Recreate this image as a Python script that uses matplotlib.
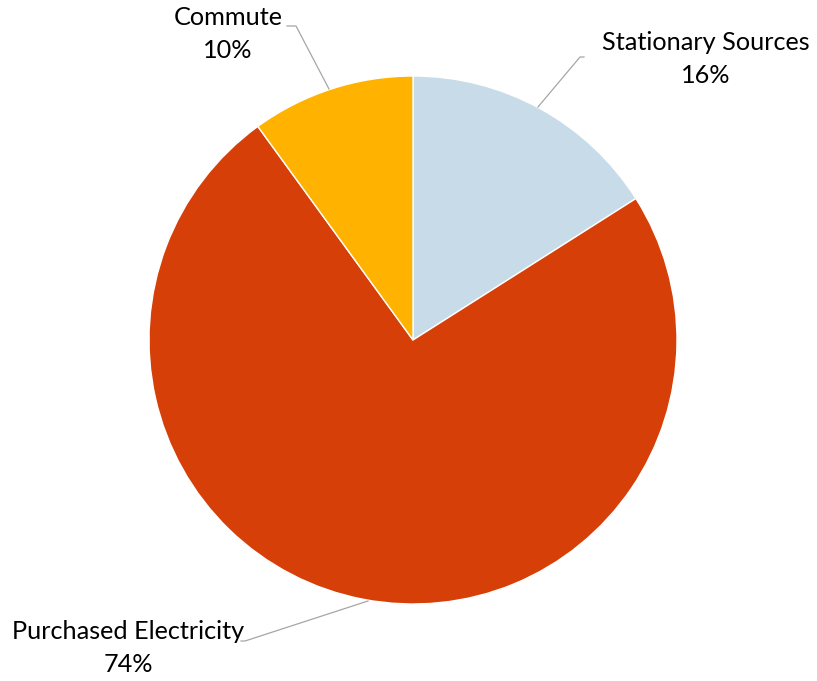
import matplotlib
matplotlib.use("Agg")
import matplotlib.pyplot as plt

categories = ["Stationary Sources", "Purchased Electricity", "Commute"]
values = [16, 74, 10]
colors = ["#C7DBE8", "#D63F07", "#FFB300"]

W, H = 817, 681
fig = plt.figure(figsize=(W / 100, H / 100), dpi=100)
ax = fig.add_axes([0, 0, 1, 1])

cx, cy, r = 413, H - 340, 264
ax.pie(values, colors=colors, startangle=90, counterclock=False,
       center=(cx, cy), radius=r, frame=True,
       wedgeprops=dict(edgecolor="white", linewidth=1.0))
ax.set_xlim(0, W)
ax.set_ylim(0, H)
ax.set_aspect("equal")
ax.axis("off")

font = dict(family=["Lato", "DejaVu Sans"], fontsize=18.2, color="#000000")
lc = "#A6A6A6"

# label positions (pixel coords from top)
labels = [
    (706, 59, [(538, 107), (580, 57), (584, 57)]),
    (128, 648, [(368, 601), (245, 641), (241, 641)]),
    (228, 34, [(329, 89), (296, 26), (287, 26)]),
]
for (name, val), (tx, ty, pts) in zip(zip(categories, values), labels):
    ax.text(tx, H - ty, f"{name}\n{val}%", ha="center", va="center",
            linespacing=1.48, **font)
    ax.plot([p[0] for p in pts], [H - p[1] for p in pts], color=lc, lw=0.9)

fig.savefig("out.png", dpi=100)
